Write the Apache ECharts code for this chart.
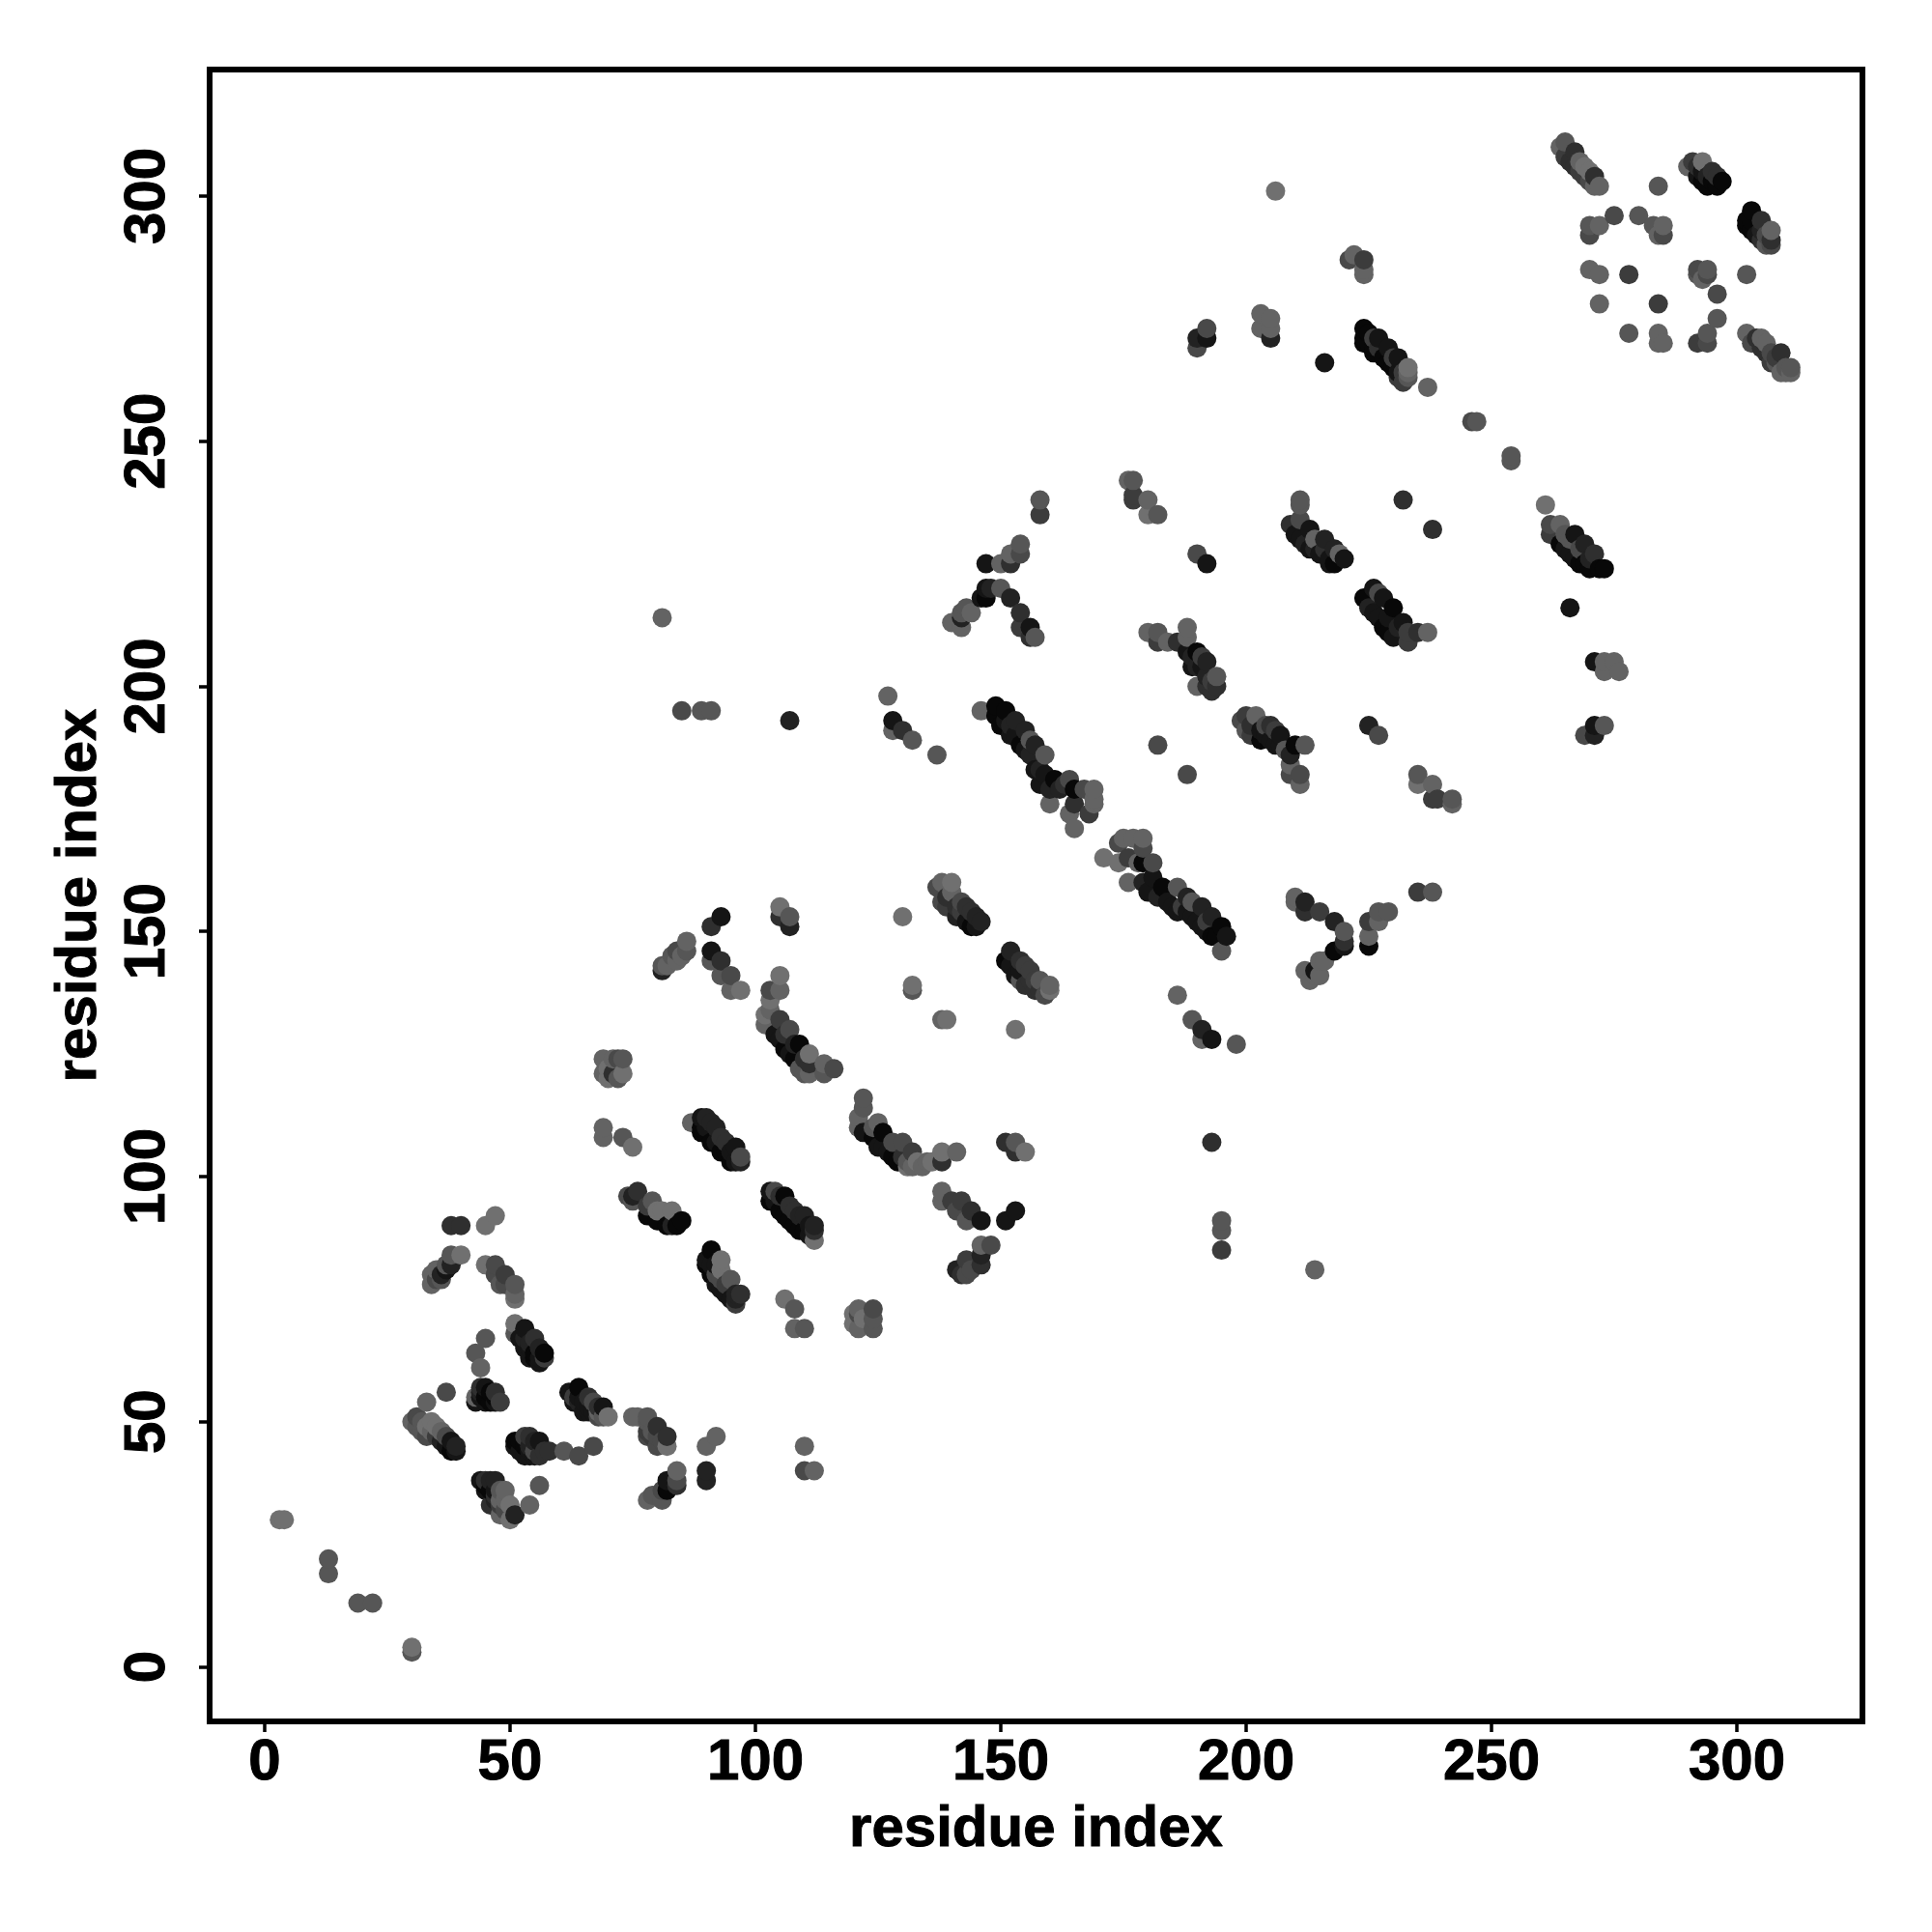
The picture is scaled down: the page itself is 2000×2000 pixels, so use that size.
<!DOCTYPE html>
<html><head><meta charset="utf-8">
<style>html,body{margin:0;padding:0;background:#fff}#c{width:2000px;height:2000px}</style>
<script src="https://cdn.jsdelivr.net/npm/echarts@6/dist/echarts.min.js"></script>
</head><body><div id="c"></div>
<script>
// each entry: [residue i, residue j, shade score 0 (darkest) .. 8 (lightest)]
const lowLeftScattered = [[3,30,8],[4,30,8],[13,22,6],[13,19,6],[19,13,6],[22,13,6],[30,3,6],[30,4,8],
 [33,54,7],[37,56,5],[38,90,3],[40,90,3],[45,90,8],[47,92,8],[56,37,6],[54,33,7],[61,44,6],[64,43,5],[67,45,5],
 [90,45,7],[92,47,7],[90,38,2],[90,40,2],[110,45,7],[110,40,5],[112,40,7]];
const clusterA = [[30,50,7],[31,49,6],[31,51,5],[32,48,6],[32,50,6],[33,47,5],[33,49,8],[34,48,7],[34,50,8],[35,47,4],[35,49,8],[36,46,2],[36,48,7],[37,45,1],[37,47,5],[38,44,0],[38,46,1],[39,45,2],[39,44,1]];
const clusterC = [[34,78,7],[34,80,7],[35,79,5],[35,81,7],[36,80,2],[36,79,6],[37,81,1],[37,82,6],[38,82,2],[38,84,6],[40,84,8]];
const clusterD = [[45,82,8],[47,82,5],[47,80,5],[49,80,4],[48,78,6],[49,78,5],[51,78,6],[51,75,8],[51,76,7]];
const clusterE = [[51,70,8],[51,68,6],[53,69,1],[52,67,1],[53,67,2],[55,67,3],[54,63,1],[54,65,1],[56,65,2],[56,63,1],[57,64,0],[57,63,4],[53,65,1],[54,66,2],[55,64,0],[56,62,1],[55,63,0]];
const clusterF = [[45,67,6],[43,64,6],[44,61,7],[44,57,3],[43,55,7],[45,57,1],[43,54,1],[46,56,0],[46,54,0],[45,54,1],[48,54,4],[44,55,1],[45,55,0],[47,55,0],[47,54,1],[44,56,2],[47,56,3]];
const clusterG = [[62,56,1],[64,57,0],[64,55,1],[63,55,4],[66,55,3],[65,52,1],[64,54,2],[67,54,5],[68,52,7],[69,53,1],[70,51,8],[63,54,1],[65,54,1],[66,53,1],[67,52,1],[68,53,3],[69,51,6],[66,52,1],[68,51,5]];
const clusterH = [[75,51,7],[76,51,7],[78,51,6],[78,50,6],[78,47,5],[79,48,6],[80,49,3],[80,47,5],[82,47,3],[82,45,8],[79,47,4],[81,46,5],[80,45,5],[78,48,4]];
const clusterE2 = [[51,45,1],[51,46,0],[53,47,4],[53,45,0],[54,47,3],[54,44,1],[55,44,5],[56,46,1],[56,43,3],[58,44,3],[52,46,0],[52,44,1],[53,43,1],[54,45,2],[55,46,2],[55,43,1],[54,43,1],[57,44,3]];
const clusterJ = [[44,38,1],[45,38,3],[45,36,1],[46,36,0],[46,33,3],[47,38,2],[47,34,2],[48,36,6],[48,34,7],[48,31,7],[49,34,7],[50,33,8],[50,30,8],[51,31,2],[45,37,0],[46,38,2],[47,36,1],[47,35,3],[48,33,4],[49,32,5],[49,36,7]];
const clusterK = [[78,34,7],[79,35,6],[81,36,5],[81,34,6],[82,38,1],[82,36,0],[84,40,7],[84,38,5],[84,37,3]];
const midUpperLeft = [[69,124,7],[72,124,5],[73,124,6],[71,124,7],[69,121,7],[70,120,8],[70,122,8],[71,121,3],[72,120,6],[73,121,8],[69,110,7],[69,108,7],[73,108,6],[75,106,8]];
const stripeM = [[87,111,7],[89,112,1],[90,112,2],[89,109,0],[89,110,0],[92,110,2],[91,107,0],[93,108,3],[93,105,0],[96,106,1],[95,103,0],[97,104,5],[96,103,1],[97,103,2],[90,110,1],[90,109,0],[91,111,2],[92,107,1],[94,105,0],[94,107,3],[95,105,1]];
const stripeN = [[74,96,5],[76,97,3],[75,96,2],[75,95,6],[79,95,6],[78,92,0],[78,94,4],[80,93,8],[80,91,0],[81,93,8],[83,93,8],[82,90,0],[84,90,0],[85,91,0],[83,90,2]];
const stripeO = [[103,97,1],[103,95,0],[104,97,5],[106,96,0],[105,93,0],[108,93,3],[107,91,0],[110,92,2],[109,89,0],[112,90,2],[112,87,8],[112,89,3],[104,95,1],[105,96,3],[106,92,0],[107,94,3],[108,90,0],[109,92,2],[110,89,0],[111,90,1],[111,88,1]];
const stripeP = [[91,85,0],[90,83,1],[90,82,0],[92,78,1],[92,80,5],[93,83,8],[93,81,8],[93,79,5],[95,79,6],[95,75,1],[97,76,3],[96,74,4],[91,82,1],[91,80,0],[92,82,1],[93,77,1],[94,76,1],[94,78,4],[96,76,2],[96,75,2]];
const cluster70s = [[106,75,8],[108,73,6],[108,69,7],[110,69,6],[120,70,8],[120,72,8],[121,73,7],[121,72,5],[121,69,7],[124,73,5],[124,69,6],[122,71,8],[124,71,6]];
const stripeQ = [[122,116,6],[122,114,6],[121,112,7],[121,110,7],[122,109,1],[125,111,7],[124,108,0],[126,109,0],[126,106,1],[128,104,0],[130,107,5],[132,105,4],[133,103,8],[131,102,8],[135,103,7],[138,105,8],[141,105,7],[138,103,3],[136,103,8],[134,102,7],[132,102,7],[125,106,1],[127,105,1],[128,107,5],[129,103,0],[130,104,3],[131,103,6],[124,110,6]];
const cluster100s = [[151,107,3],[153,107,6],[153,105,3],[155,105,8]];
const stripeR = [[138,97,7],[138,95,7],[140,95,4],[142,95,4],[141,93,5],[144,93,3],[143,91,6],[146,91,1],[151,91,1],[153,93,1]];
const clusterS = [[146,86,7],[148,86,5],[146,84,2],[146,82,3],[143,83,4],[144,81,5],[142,80,3],[143,80,5],[141,81,2]];
const clusterT = [[91,151,3],[93,153,1],[91,146,1],[93,144,3],[91,144,6],[95,141,5],[93,141,6],[95,138,7],[97,138,8],[105,155,8],[105,153,3],[107,153,6],[107,151,2]];
const clusterFork150 = [[81,143,6],[81,142,2],[82,143,7],[83,145,6],[84,146,5],[86,148,7],[84,144,7],[85,145,7],[86,146,6]];
const stripeU = [[105,141,8],[103,138,5],[105,138,7],[103,136,8],[102,133,8],[103,134,7],[102,131,7],[105,132,4],[104,129,1],[107,130,5],[109,127,0],[106,126,0],[108,124,0],[111,125,8],[111,123,3],[114,123,7],[116,122,5],[110,121,6],[111,121,7],[114,121,6],[105,128,1],[106,129,3],[107,125,1],[110,124,3],[108,127,2],[109,122,6]];
const dots130 = [[130,153,8],[132,139,8],[132,138,6],[138,132,7],[139,132,8],[153,130,8],[186,137,7],[189,132,6],[191,130,2],[193,128,1],[191,128,7],[198,127,6],[193,107,3],[195,91,6],[195,89,6],[195,85,4],[214,81,7],[195,146,6]];
const stripeV = [[138,160,7],[137,159,5],[140,160,8],[140,158,7],[139,155,4],[138,156,5],[142,156,5],[141,153,2],[144,154,3],[146,152,2],[144,151,0],[142,154,4],[139,157,3],[141,155,3],[143,152,1],[143,155,3],[145,153,2],[145,151,1]];
const stripeW = [[152,146,2],[151,144,0],[154,144,3],[156,142,4],[153,141,1],[158,140,6],[155,139,3],[160,139,7],[160,138,8],[159,137,5],[154,140,6],[157,140,4],[152,143,1],[154,142,1],[155,143,4],[156,140,3],[157,138,3],[158,138,3]];
const stripeMain = [[146,195,7],[149,196,0],[149,194,0],[151,195,0],[150,192,0],[153,193,2],[152,190,1],[155,191,2],[154,188,0],[157,188,2],[156,189,6],[159,186,6],[157,183,1],[158,183,2],[161,181,0],[158,180,1],[160,179,2],[164,181,5],[165,179,0],[160,176,7],[169,179,7],[167,179,5],[165,176,3],[169,176,7],[169,177,7],[164,174,7],[168,174,4],[165,171,7],[151,193,1],[152,192,2],[153,190,1],[155,187,1],[156,186,2],[159,182,1],[162,179,2],[163,180,3]];
const stripe2 = [[171,165,8],[174,164,8],[174,168,5],[175,169,7],[177,169,7],[179,169,7],[179,167,5],[176,165,4],[179,164,0],[181,164,5],[178,164,7],[176,160,7],[179,160,2],[181,161,1],[183,159,0],[180,158,1],[182,157,2],[186,159,6],[188,157,2],[189,156,6],[191,155,2],[188,154,1],[190,152,1],[193,153,2],[192,150,1],[195,151,0],[196,149,1],[194,149,0],[184,156,1],[185,155,1],[186,154,1],[187,155,4],[189,153,1],[191,151,1],[193,149,0],[192,152,4]];
const stripe3 = [[199,193,5],[200,191,6],[200,194,4],[202,194,7],[205,192,3],[203,191,1],[207,190,1],[205,189,1],[203,189,0],[208,187,6],[212,188,6],[210,188,0],[209,186,2],[209,184,7],[209,182,5],[211,182,5],[211,180,7],[182,188,5],[188,182,5],[225,192,2],[227,190,5],[201,190,4],[201,192,3],[204,190,1],[206,188,1],[207,188,1],[204,192,5],[206,191,4]];
const cluster235 = [[235,182,6],[235,180,8],[238,180,7],[238,177,4],[239,177,4],[242,177,6],[242,176,7],[235,158,4],[238,158,6]];
const forkV = [[210,157,7],[210,156,7],[212,156,2],[212,154,3],[215,154,4],[218,152,2],[220,150,6],[220,148,3],[218,146,0],[220,147,1],[225,152,4],[225,149,7],[227,152,7],[227,154,6],[229,154,6],[225,147,0],[216,144,7],[215,144,7],[214,142,1],[212,142,7],[213,140,7],[215,141,7],[214,141,7]];
const forkK = [[158,238,6],[158,235,4],[154,229,6],[154,227,5],[152,227,7],[152,225,3],[150,225,7],[147,225,1],[147,220,1],[148,220,2],[150,220,6],[146,218,1],[147,218,0],[152,218,2],[154,215,3],[154,212,4],[156,212,1],[156,210,3],[157,210,6],[143,216,6],[144,215,7],[142,215,6],[142,214,2],[142,212,7],[140,213,7]];
const dots190 = [[81,214,7],[85,195,5],[89,195,6],[91,195,6],[107,193,2],[127,198,7],[128,193,1],[128,191,7],[130,191,3],[132,189,6],[137,186,6],[176,242,7],[177,242,6],[177,239,4],[177,238,4],[180,238,7],[180,235,8],[182,235,6],[190,227,5],[192,225,1],[232,238,3],[238,232,3],[254,247,6],[254,246,6],[261,237,8],[266,216,1],[271,205,1],[273,205,7],[275,205,7],[273,203,7],[276,203,7],[271,192,1],[273,192,6],[269,190,5],[271,190,2],[206,301,8]];
const stripeX = [[211,238,6],[211,237,6],[209,233,3],[211,234,5],[210,231,1],[213,232,1],[212,229,2],[216,230,2],[215,227,1],[214,230,7],[218,228,2],[219,227,7],[220,226,1],[218,225,0],[211,230,1],[213,228,1],[214,228,2],[217,226,1],[216,228,3],[217,225,1]];
const stripeY = [[262,233,5],[264,233,7],[262,231,4],[267,231,1],[264,229,0],[269,229,2],[266,227,1],[271,227,3],[268,225,0],[273,224,0],[270,224,0],[272,224,0],[265,228,1],[265,231,6],[267,226,1],[269,225,0],[270,226,2],[268,228,5],[266,230,6]];
const stripeZ = [[226,220,1],[224,218,0],[227,219,5],[228,218,1],[226,215,1],[230,216,0],[228,212,0],[232,213,1],[230,210,1],[233,209,4],[233,211,4],[235,211,3],[237,211,7],[225,216,2],[227,214,1],[229,214,1],[231,212,2],[229,211,0]];
const stripe200 = [[180,211,7],[182,211,6],[182,209,4],[184,209,7],[186,209,3],[188,212,7],[188,210,7],[188,207,1],[190,207,0],[192,205,2],[189,204,1],[194,202,6],[190,200,7],[193,199,3],[194,200,3],[192,200,3],[189,206,2],[191,204,1],[191,206,4],[192,202,2],[193,201,4],[190,204,2]];
const upper270 = [[221,287,5],[222,288,7],[224,287,4],[224,285,7],[224,284,7],[203,276,7],[203,273,7],[205,275,7],[205,273,7],[205,271,2],[192,273,5],[190,271,2],[192,271,1],[190,269,5],[216,266,1]];
const stripe265 = [[224,273,0],[224,271,0],[224,270,0],[226,271,4],[227,271,1],[226,269,0],[229,269,1],[228,267,0],[231,267,1],[230,265,0],[233,265,8],[233,264,7],[232,262,4],[237,261,7],[246,254,5],[247,254,6],[225,272,0],[225,270,0],[226,268,0],[227,269,3],[229,266,0],[231,264,1],[230,267,4],[232,264,4],[233,263,6],[231,263,4]];
const stripeTopA = [[264,310,7],[265,311,6],[265,308,4],[267,309,3],[267,306,3],[269,306,8],[269,304,4],[271,304,3],[272,302,7],[271,302,7],[284,302,6],[266,307,3],[268,305,4],[270,303,5],[268,307,7],[270,305,8]];
const stripeTopB = [[290,306,7],[291,307,4],[293,307,8],[292,304,1],[295,305,3],[294,302,0],[297,303,0],[296,302,0],[292,306,3],[293,305,1],[293,303,0],[295,303,0],[294,304,2],[296,304,3]];
const stripeTopC = [[303,297,0],[302,295,0],[302,294,0],[305,295,3],[304,292,1],[307,293,7],[307,291,3],[307,290,5],[303,295,0],[303,293,0],[305,293,2],[305,291,3],[306,292,5],[306,290,6]];
const stripeTopD = [[302,272,7],[304,271,3],[306,270,7],[305,269,3],[309,268,3],[307,266,4],[311,265,6],[310,265,6],[309,264,7],[311,264,7],[303,270,5],[305,271,7],[308,267,4],[306,268,3],[307,268,5],[310,264,7],[308,266,6]];
const ringTop = [[270,294,6],[270,292,5],[272,294,7],[275,296,5],[280,296,6],[283,294,6],[285,294,7],[285,292,5],[284,292,7],[270,285,7],[272,284,7],[278,284,4],[292,285,5],[294,285,6],[292,284,6],[293,283,7],[294,284,5],[296,280,5],[302,284,6],[272,278,7],[284,278,4],[296,275,6],[278,272,6],[284,272,7],[284,270,7],[285,270,7],[292,270,4],[294,272,6],[294,270,5]];

const xTickLabels = [0,50,100,150,200,250,300];
const yTickLabels = [0,50,100,150,200,250,300];
const xTitle = 'residue index';
const yTitle = 'residue index';

const contacts = [].concat(lowLeftScattered,clusterA,clusterC,clusterD,clusterE,clusterF,clusterG,clusterH,clusterE2,clusterJ,clusterK,midUpperLeft,stripeM,stripeN,stripeO,stripeP,cluster70s,stripeQ,cluster100s,stripeR,clusterS,clusterT,clusterFork150,stripeU,dots130,stripeV,stripeW,stripeMain,stripe2,stripe3,cluster235,forkV,forkK,dots190,stripeX,stripeY,stripeZ,stripe200,upper270,stripe265,stripeTopA,stripeTopB,stripeTopC,stripeTopD,ringTop)
  .sort((a,b)=>a[0]-b[0]||a[1]-b[1]);

const shade = s => { const g = Math.round(8+13*s); return `rgb(${g},${g},${g})`; };
const font = {fontFamily:'"Liberation Sans"',fontWeight:'bold',fontSize:60,color:'#000',textBorderColor:'#000',textBorderWidth:1};

const chart = echarts.init(document.getElementById('c'),null,{renderer:'canvas'});
chart.setOption({
  animation:false,
  backgroundColor:'#fff',
  grid:{show:true,left:217,right:72,top:72,bottom:218,borderColor:'#000',borderWidth:6,backgroundColor:'#fff'},
  xAxis:{type:'value',min:-11.22,max:325.6,splitLine:{show:false},axisLine:{show:false,onZero:false},
    axisTick:{show:true,length:11,lineStyle:{color:'#000',width:3.5},customValues:xTickLabels},
    axisLabel:{...font,customValues:xTickLabels,margin:13},
    name:xTitle,nameLocation:'middle',nameGap:82,nameTextStyle:font},
  yAxis:{type:'value',min:-11.13,max:325.8,splitLine:{show:false},axisLine:{show:false,onZero:false},
    axisTick:{show:true,length:11,lineStyle:{color:'#000',width:3.5},customValues:yTickLabels},
    axisLabel:{...font,customValues:yTickLabels,rotate:90,margin:34,align:'center',verticalAlign:'bottom'},
    name:yTitle,nameLocation:'middle',nameGap:105,nameTextStyle:font},
  series:[{type:'scatter',symbol:'circle',symbolSize:20,clip:false,
    data:contacts.map(c=>({value:[c[0],c[1]],itemStyle:{color:shade(c[2]),opacity:1}}))}]
});
</script></body></html>
